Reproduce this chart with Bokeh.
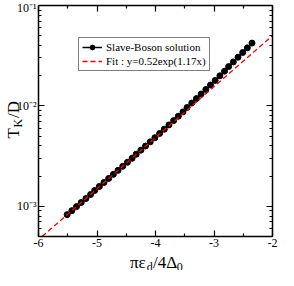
import numpy as np
from bokeh.plotting import figure
from bokeh.models import (LinearAxis, LogAxis, FixedTicker, CustomJSTickFormatter,
                          Label, Legend, LegendItem, Range1d)
from bokeh.embed import file_html
from bokeh.resources import INLINE

# Slave-Boson solution
x_sb = [-5.51, -5.43, -5.35, -5.27, -5.19, -5.11, -5.04, -4.96, -4.88, -4.80,
        -4.72, -4.64, -4.56, -4.48, -4.40, -4.33, -4.25, -4.17, -4.09, -4.01,
        -3.93, -3.85, -3.77, -3.69, -3.61, -3.53, -3.46, -3.38, -3.30, -3.22,
        -3.14, -3.06, -2.98, -2.90, -2.82, -2.75, -2.67, -2.59, -2.51, -2.43,
        -2.35]
y_sb = [0.000825, 0.000905, 0.000993, 0.001089, 0.001194, 0.001310, 0.001437,
        0.001576, 0.001728, 0.001896, 0.002079, 0.002280, 0.002501, 0.002743,
        0.003009, 0.003301, 0.003625, 0.003984, 0.004382, 0.004824, 0.005313,
        0.005858, 0.006462, 0.007135, 0.007883, 0.008716, 0.009643, 0.010676,
        0.011825, 0.013113, 0.014545, 0.016143, 0.017922, 0.019922, 0.022148,
        0.024634, 0.027406, 0.030520, 0.033991, 0.037875, 0.042220]

# Fit : y = 0.52 exp(1.17 x)
FIT_A = 0.52
FIT_B = 1.17

# axis limits and ticks
X_MIN, X_MAX = -6.0, -2.0
Y_MIN, Y_MAX = 5e-4, 0.1
x_ticks = [-6, -5, -4, -3, -2]
x_minor = [-5.5, -4.5, -3.5, -2.5]
y_ticks = [1e-3, 1e-2, 1e-1]
y_minor = [k * 10.0 ** e for e in (-4, -3, -2) for k in range(2, 10)
           if Y_MIN <= k * 10.0 ** e <= Y_MAX]

# fit curve over the visible box (starts where it enters the box)
fit_x0 = max(X_MIN, np.log(Y_MIN / FIT_A) / FIT_B)
fit_x = list(np.linspace(fit_x0, X_MAX, 9))
fit_y = [FIT_A * np.exp(FIT_B * v) for v in fit_x]

SERIF = "Liberation Serif"

# canvas geometry (pixels): the frame fills the canvas, the axes box sits inside it
W, H = 278, 270
BOX_L, BOX_R, BOX_T, BOX_B = 38, 272, 5, 236
xpp = (X_MAX - X_MIN) / (BOX_R - BOX_L)
dpp = (np.log10(Y_MAX) - np.log10(Y_MIN)) / (BOX_B - BOX_T)
xr = Range1d(X_MIN - BOX_L * xpp, X_MAX + (W - BOX_R) * xpp)
yr = Range1d(10 ** (np.log10(Y_MIN) - (H - BOX_B) * dpp), 10 ** (np.log10(Y_MAX) + BOX_T * dpp))

p = figure(width=W, height=H, x_range=xr, y_range=yr, y_axis_type="log",
           x_axis_location=None, y_axis_location=None,
           output_backend="svg", toolbar_location=None,
           min_border=0, min_border_left=0, min_border_right=0,
           min_border_top=0, min_border_bottom=0)
p.grid.visible = False
p.outline_line_color = None
p.background_fill_color = "white"
p.border_fill_color = "white"

sup_code = r"""
const e = Math.round(Math.log10(tick));
const m = {"-": "\u207b", "0": "\u2070", "1": "\u00b9", "2": "\u00b2", "3": "\u00b3",
           "4": "\u2074", "5": "\u2075", "6": "\u2076", "7": "\u2077", "8": "\u2078", "9": "\u2079"};
let s = "";
for (const c of String(e)) { s += m[c]; }
return "10" + s;
"""


def style(ax, show_labels=True):
    ax.axis_line_color = "black"
    ax.axis_line_width = 1.5
    ax.major_tick_line_color = "black"
    ax.minor_tick_line_color = "black"
    ax.major_tick_line_width = 1.2
    ax.minor_tick_line_width = 1.2
    ax.major_tick_in = 6
    ax.major_tick_out = 0
    ax.minor_tick_in = 3
    ax.minor_tick_out = 0
    ax.major_label_text_font = SERIF
    ax.major_label_text_color = "black"
    ax.major_label_text_font_size = "12px"
    ax.major_label_standoff = 2
    ax.axis_label = None
    if not show_labels:
        ax.formatter = CustomJSTickFormatter(code="return '';")


bottom = LinearAxis(ticker=FixedTicker(ticks=x_ticks, minor_ticks=x_minor),
                    fixed_location=Y_MIN, bounds=(X_MIN, X_MAX))
style(bottom)
bottom.formatter = CustomJSTickFormatter(code="return String(tick);")
p.add_layout(bottom, "below")

top = LinearAxis(ticker=FixedTicker(ticks=x_ticks, minor_ticks=x_minor),
                 fixed_location=Y_MAX, bounds=(X_MIN, X_MAX))
style(top, False)
p.add_layout(top, "above")

left = LogAxis(ticker=FixedTicker(ticks=y_ticks, minor_ticks=y_minor),
               fixed_location=X_MIN, bounds=(Y_MIN, Y_MAX))
style(left)
left.formatter = CustomJSTickFormatter(code=sup_code)
p.add_layout(left, "left")

right = LogAxis(ticker=FixedTicker(ticks=y_ticks, minor_ticks=y_minor),
                fixed_location=X_MAX, bounds=(Y_MIN, Y_MAX))
style(right, False)
p.add_layout(right, "right")

r_line = p.line(x_sb, y_sb, line_color="black", line_width=1.5)
r_pts = p.scatter(x_sb, y_sb, size=6, fill_color="black", line_color="black")
r_fit = p.line(fit_x, fit_y, line_color="#ff0000", line_width=1.3, line_dash="5 3")

legend = Legend(items=[
    LegendItem(label="Slave-Boson solution", renderers=[r_line, r_pts]),
    LegendItem(label="Fit : y=0.52exp(1.17x)", renderers=[r_fit]),
])
legend.location = (78, 199)
legend.label_text_font = SERIF
legend.label_text_font_size = "11px"
legend.label_text_color = "black"
legend.label_height = 12
legend.glyph_height = 12
legend.glyph_width = 20
legend.label_standoff = 4
legend.padding = 3
legend.spacing = 2
legend.margin = 0
legend.border_line_color = "black"
legend.border_line_width = 1
legend.background_fill_alpha = 1
p.add_layout(legend)


def lab(text, x, y, size, angle=0.0):
    p.add_layout(Label(x=x, y=y, x_units="canvas", y_units="canvas", text=text,
                       text_font=SERIF, text_font_size=size, text_color="black",
                       text_align="left", text_baseline="alphabetic", angle=angle,
                       level="overlay"))


# x axis title: pi eps_d / 4 Delta_0 (canvas pixels, from the top-left corner)
lab("\u03c0\u03b5", 129.5, 262, "17px")
lab("d", 146.3, 266, "12px")
lab("/4\u0394", 152.5, 262, "17px")
lab("0", 176.2, 266, "12px")

# y axis title: T_K / D (rotated)
half_pi = np.pi / 2
lab("T", 13, 138, "17px", half_pi)
lab("K", 17.5, 127, "12px", half_pi)
lab("/D", 13, 117.5, "17px", half_pi)

open("out.html", "w").write(file_html(p, INLINE))
